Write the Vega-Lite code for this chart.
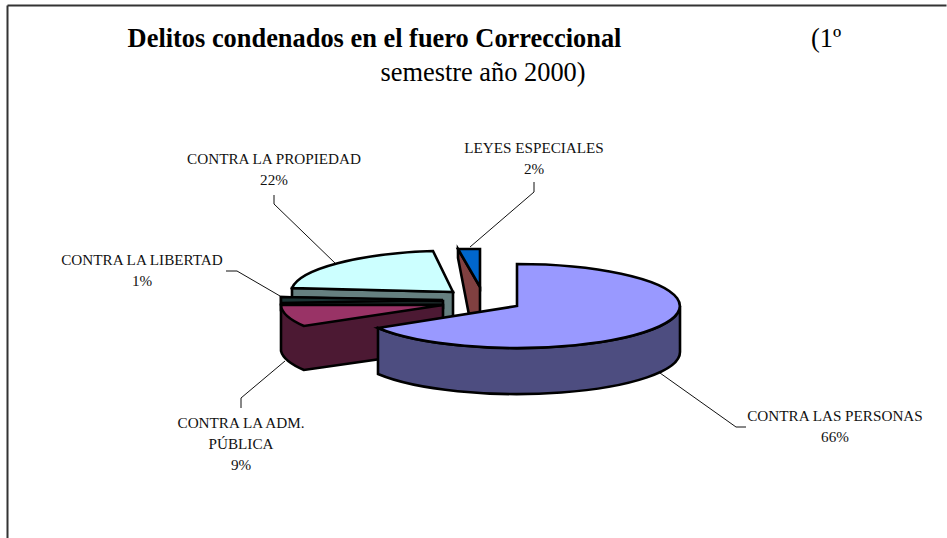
{
"$schema":"https://vega.github.io/schema/vega-lite/v6.json",
"width":939,"height":533,
"autosize":{"type":"none"},
"padding":{"left":7,"top":5,"right":1,"bottom":0},
"background":"white",
"view":{"stroke":null},
"config":{"text":{"font":"Liberation Serif"}},
"datasets":{
"delitos":[
{"delito":"CONTRA LA PROPIEDAD","pct":22,"etiqueta":"CONTRA LA PROPIEDAD\n22%"},
{"delito":"CONTRA LA LIBERTAD","pct":1,"etiqueta":"CONTRA LA LIBERTAD\n1%"},
{"delito":"CONTRA LA ADM. PÚBLICA","pct":9,"etiqueta":"CONTRA LA ADM.\nPÚBLICA\n9%"},
{"delito":"LEYES ESPECIALES","pct":2,"etiqueta":"LEYES ESPECIALES\n2%"},
{"delito":"CONTRA LAS PERSONAS","pct":66,"etiqueta":"CONTRA LAS PERSONAS\n66%"}
],
"titulo":[{"t1":"Delitos condenados en el fuero Correccional","t2":"(1º","t3":"semestre año 2000)"}]
},
"data":{"name":"delitos"},
"encoding":{
"x":{"datum":0,"type":"quantitative","scale":{"domain":[7,946],"nice":false,"zero":false},"axis":{"orient":"top","title":null,"labels":false,"ticks":false,"grid":false,"domainColor":"#333333","domainWidth":2}},
"y":{"datum":0,"type":"quantitative","scale":{"domain":[538,5],"nice":false,"zero":false},"axis":{"orient":"left","title":null,"labels":false,"ticks":false,"grid":false,"domainColor":"#333333","domainWidth":2}}
},
"layer":[
{"mark":{"type":"point","filled":false,"size":4,"stroke":"#111111","strokeWidth":1,"fill":null,"opacity":1},
"encoding":{"shape":{"field":"delito","type":"nominal","legend":null,"scale":{
"domain":["CONTRA LA PROPIEDAD","CONTRA LA LIBERTAD","CONTRA LA ADM. PÚBLICA","LEYES ESPECIALES","CONTRA LAS PERSONAS"],
"range":["M274,195L274,204L336,264","M226,271L237,271L280,296","M285,361L241,398L241,408","M470,247L534,192L534,182","M660,373L736,427L746,427"]}}}},
{"mark":{"type":"point","filled":true,"size":4,"stroke":"#000000","strokeWidth":2.6,"opacity":1,"strokeJoin":"miter"},
"encoding":{
"color":{"field":"delito","type":"nominal","legend":null,"scale":{
"domain":["CONTRA LA PROPIEDAD","CONTRA LA LIBERTAD","CONTRA LA ADM. PÚBLICA","LEYES ESPECIALES","CONTRA LAS PERSONAS"],
"range":["#668080","#1A2626","#4C1933","#804040","#4D4D80"]}},
"stroke":{"value":"#000000"},
"shape":{"field":"delito","type":"nominal","legend":null,"scale":{
"domain":["CONTRA LA PROPIEDAD","CONTRA LA LIBERTAD","CONTRA LA ADM. PÚBLICA","LEYES ESPECIALES","CONTRA LAS PERSONAS"],
"range":[
"M292,288L292,330L453,335L453,292Z",
"M281,297L281,310L443,308L443,301Z",
"M281,305L281,351A163,42 0 0 0 304,370L443,350L443,305Z",
"M458,249L480,287L480,320L470,320L458,258Z",
"M378,328L378,374A163,42 0 0 0 680,352L680,306A163,42 0 0 1 378,328Z"]}}}},
{"mark":{"type":"point","filled":true,"size":4,"stroke":"#000000","strokeWidth":2.6,"opacity":1,"strokeJoin":"miter"},
"encoding":{
"color":{"field":"delito","type":"nominal","legend":null,"scale":{
"domain":["CONTRA LA PROPIEDAD","CONTRA LA LIBERTAD","CONTRA LA ADM. PÚBLICA","LEYES ESPECIALES","CONTRA LAS PERSONAS"],
"range":["#CCFFFF","#1A3333","#993366","#0066CC","#9999FF"]}},
"stroke":{"value":"#000000"},
"shape":{"field":"delito","type":"nominal","legend":null,"scale":{
"domain":["CONTRA LA PROPIEDAD","CONTRA LA LIBERTAD","CONTRA LA ADM. PÚBLICA","LEYES ESPECIALES","CONTRA LAS PERSONAS"],
"range":[
"M453,292L433,251A163,42 0 0 0 292,288Z",
"M443,300L281,297L281,303Z",
"M443,305L281,305A163,42 0 0 0 304,326Z",
"M458,249L480,249L480,287Z",
"M517,306L517,264A163,42 0 1 1 378,328Z"]}}}},
{"transform":[{"filter":"datum.delito==='CONTRA LA PROPIEDAD'"}],"mark":{"type":"text","fontSize":15.2,"lineBreak":"\n","lineHeight":21,"baseline":"alphabetic","color":"#111111"},"encoding":{"x":{"datum":274},"y":{"datum":164},"text":{"field":"etiqueta"}}},
{"transform":[{"filter":"datum.delito==='CONTRA LA LIBERTAD'"}],"mark":{"type":"text","fontSize":15.2,"lineBreak":"\n","lineHeight":21,"baseline":"alphabetic","color":"#111111"},"encoding":{"x":{"datum":142},"y":{"datum":265},"text":{"field":"etiqueta"}}},
{"transform":[{"filter":"datum.delito==='CONTRA LA ADM. PÚBLICA'"}],"mark":{"type":"text","fontSize":15.2,"lineBreak":"\n","lineHeight":21,"baseline":"alphabetic","color":"#111111"},"encoding":{"x":{"datum":241},"y":{"datum":428},"text":{"field":"etiqueta"}}},
{"transform":[{"filter":"datum.delito==='LEYES ESPECIALES'"}],"mark":{"type":"text","fontSize":15.2,"lineBreak":"\n","lineHeight":21,"baseline":"alphabetic","color":"#111111"},"encoding":{"x":{"datum":534},"y":{"datum":153},"text":{"field":"etiqueta"}}},
{"transform":[{"filter":"datum.delito==='CONTRA LAS PERSONAS'"}],"mark":{"type":"text","fontSize":15.2,"lineBreak":"\n","lineHeight":21,"baseline":"alphabetic","color":"#111111"},"encoding":{"x":{"datum":835},"y":{"datum":421},"text":{"field":"etiqueta"}}},
{"data":{"name":"titulo"},"mark":{"type":"text","fontSize":26.4,"fontWeight":"bold","baseline":"alphabetic","color":"#000000"},"encoding":{"x":{"datum":374.5},"y":{"datum":47},"text":{"field":"t1"}}},
{"data":{"name":"titulo"},"mark":{"type":"text","fontSize":26.4,"baseline":"alphabetic","color":"#000000"},"encoding":{"x":{"datum":826},"y":{"datum":47},"text":{"field":"t2"}}},
{"data":{"name":"titulo"},"mark":{"type":"text","fontSize":26.4,"baseline":"alphabetic","color":"#000000"},"encoding":{"x":{"datum":483},"y":{"datum":81},"text":{"field":"t3"}}}
],
"resolve":{"scale":{"color":"independent","shape":"independent"}}
}
